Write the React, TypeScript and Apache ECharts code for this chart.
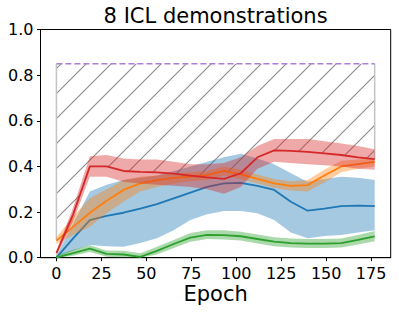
import React, { useEffect, useRef } from "react";
import * as echarts from "echarts";

const epochs = [0, 9.3, 18.6, 27.9, 37.3, 46.6, 55.9, 65.2, 74.5, 83.8, 93.2, 102.5, 111.8, 121.1, 130.4, 139.7, 149, 158.4, 167.7, 177];

const blueMean = [0.0, 0.085, 0.165, 0.183, 0.197, 0.215, 0.235, 0.26, 0.285, 0.31, 0.326, 0.328, 0.315, 0.297, 0.245, 0.206, 0.215, 0.226, 0.228, 0.226];
const blueUpper = [0.01, 0.15, 0.29, 0.32, 0.34, 0.35, 0.36, 0.38, 0.4, 0.42, 0.44, 0.455, 0.435, 0.41, 0.37, 0.333, 0.345, 0.355, 0.35, 0.34];
const blueLower = [0.0, 0.03, 0.056, 0.05, 0.048, 0.064, 0.085, 0.12, 0.165, 0.19, 0.205, 0.205, 0.195, 0.165, 0.11, 0.085, 0.095, 0.1, 0.11, 0.12];

const orangeMean = [0.075, 0.135, 0.197, 0.25, 0.297, 0.326, 0.34, 0.35, 0.355, 0.362, 0.38, 0.365, 0.345, 0.326, 0.315, 0.318, 0.36, 0.4, 0.41, 0.42];
const orangeUpper = [0.09, 0.18, 0.26, 0.3, 0.34, 0.355, 0.36, 0.37, 0.375, 0.38, 0.4, 0.385, 0.365, 0.345, 0.335, 0.34, 0.385, 0.425, 0.43, 0.435];
const orangeLower = [0.06, 0.1, 0.136, 0.195, 0.245, 0.29, 0.31, 0.325, 0.335, 0.34, 0.36, 0.345, 0.325, 0.305, 0.295, 0.29, 0.33, 0.375, 0.39, 0.4];

const greenMean = [0.0, 0.02, 0.04, 0.017, 0.014, 0.004, 0.03, 0.06, 0.088, 0.1, 0.099, 0.094, 0.082, 0.07, 0.064, 0.062, 0.062, 0.064, 0.078, 0.093];
const greenUpper = [0.012, 0.035, 0.055, 0.032, 0.03, 0.02, 0.048, 0.078, 0.108, 0.12, 0.12, 0.114, 0.102, 0.09, 0.084, 0.082, 0.082, 0.084, 0.1, 0.117];
const greenLower = [0.0, 0.008, 0.025, 0.004, 0.0, 0.0, 0.014, 0.042, 0.07, 0.082, 0.08, 0.075, 0.062, 0.05, 0.045, 0.043, 0.043, 0.045, 0.058, 0.072];

const redMean = [0.02, 0.19, 0.4, 0.4, 0.38, 0.376, 0.374, 0.368, 0.36, 0.352, 0.345, 0.37, 0.44, 0.47, 0.468, 0.464, 0.457, 0.45, 0.44, 0.432];
const redUpper = [0.03, 0.22, 0.445, 0.45, 0.435, 0.43, 0.43, 0.42, 0.41, 0.41, 0.415, 0.44, 0.49, 0.52, 0.52, 0.52, 0.51, 0.5, 0.49, 0.475];
const redLower = [0.01, 0.16, 0.355, 0.355, 0.333, 0.325, 0.32, 0.315, 0.31, 0.3, 0.28, 0.31, 0.39, 0.42, 0.415, 0.41, 0.405, 0.4, 0.39, 0.385];

const ceiling = 0.85;
const xTicks = [0, 25, 50, 75, 100, 125, 150, 175];
const title = "8 ICL demonstrations";
const xName = "Epoch";

const FONT = "DejaVu Sans";

function makeHatch(): string {
  const c = document.createElement("canvas");
  c.width = 25;
  c.height = 25;
  const ctx = c.getContext("2d");
  if (ctx) {
    ctx.strokeStyle = "#8a8a8a";
    ctx.lineWidth = 1.1;
    ctx.beginPath();
    ctx.moveTo(-3, 28);
    ctx.lineTo(28, -3);
    ctx.moveTo(-3, 3);
    ctx.lineTo(3, -3);
    ctx.moveTo(22, 28);
    ctx.lineTo(28, 22);
    ctx.stroke();
  }
  return c.toDataURL();
}

function pts(ys: number[]) {
  return epochs.map((x, i) => [x, ys[i]]);
}

// A filled region between lower and upper, drawn as one polygon through the axes' scales.
function region(name: string, lower: number[], upper: number[], style: any, z: number) {
  const data = epochs.map((x, i) => [x, lower[i], upper[i]]);
  return {
    name,
    type: "custom",
    data,
    silent: true,
    clip: true,
    z,
    renderItem: (params: any, api: any) => {
      if (params.dataIndex !== 0) return null;
      const top: number[][] = [];
      const bot: number[][] = [];
      for (let i = 0; i < data.length; i++) {
        top.push(api.coord([data[i][0], data[i][2]]));
        bot.push(api.coord([data[i][0], data[i][1]]));
      }
      const points = top.concat(bot.reverse());
      return {
        type: "polygon",
        shape: { points },
        style,
      };
    },
  };
}

function meanLine(name: string, ys: number[], color: string, z: number) {
  return {
    name,
    type: "line",
    data: pts(ys),
    showSymbol: false,
    symbol: "none",
    lineStyle: { color, width: 1.8 },
    silent: true,
    z,
  };
}

function plainLine(name: string, data: number[][], lineStyle: any, z: number) {
  return {
    name,
    type: "line",
    data,
    showSymbol: false,
    symbol: "none",
    lineStyle,
    silent: true,
    z,
  };
}

export default function App() {
  const ref = useRef<HTMLDivElement>(null);
  useEffect(() => {
    if (!ref.current) return;
    const chart = echarts.init(ref.current, null, { renderer: "svg" });
    const maxMean = epochs.map((_, i) =>
      Math.max(blueMean[i], orangeMean[i], greenMean[i], redMean[i])
    );
    const ceil = epochs.map(() => ceiling);
    const hatch = makeHatch();
    const last = epochs.length - 1;

    const left = 40.5;
    const right = 8.3;
    const top = 29.5;
    const bottom = 55.3;
    const plotCenter = left + (399 - left - right) / 2;

    chart.setOption({
      animation: false,
      textStyle: { fontFamily: FONT },
      grid: {
        left,
        right,
        top,
        bottom,
        show: true,
        borderColor: "#000",
        borderWidth: 1,
        containLabel: false,
      },
      xAxis: {
        type: "value",
        min: -8.85,
        max: 185.9,
        axisLine: { show: true, onZero: false, lineStyle: { color: "#000", width: 1 } },
        axisTick: {
          show: true,
          length: 3.5,
          lineStyle: { color: "#000" },
          customValues: xTicks,
        },
        axisLabel: {
          color: "#000",
          fontSize: 16,
          lineHeight: 15,
          fontFamily: FONT,
          margin: 8.5,
          customValues: xTicks,
        },
        splitLine: { show: false },
      },
      yAxis: {
        type: "value",
        min: 0,
        max: 1,
        interval: 0.2,
        axisLine: { show: true, onZero: false, lineStyle: { color: "#000", width: 1 } },
        axisTick: { show: true, length: 3.5, lineStyle: { color: "#000" } },
        axisLabel: {
          color: "#000",
          fontSize: 16,
          fontFamily: FONT,
          margin: 7,
          formatter: (v: number) => v.toFixed(1),
        },
        splitLine: { show: false },
      },
      graphic: [
        {
          type: "text",
          x: plotCenter,
          y: 16,
          style: {
            text: title,
            textAlign: "center",
            textVerticalAlign: "middle",
            font: `21px "${FONT}"`,
            fill: "#000",
          },
        },
        {
          type: "text",
          x: plotCenter,
          y: 294,
          style: {
            text: xName,
            textAlign: "center",
            textVerticalAlign: "middle",
            lineHeight: 20,
            font: `21px "${FONT}"`,
            fill: "#000",
          },
        },
      ],
      series: [
        region(
          "hatch",
          maxMean,
          ceil,
          {
            fill: {
              type: "pattern",
              image: hatch,
              imageWidth: 25,
              imageHeight: 25,
              repeat: "repeat",
            },
            stroke: "none",
          },
          1
        ),
        plainLine(
          "edge_left",
          [
            [epochs[0], maxMean[0]],
            [epochs[0], ceiling],
          ],
          { color: "#c4c4c4", width: 1.5 },
          2
        ),
        plainLine(
          "edge_right",
          [
            [epochs[last], maxMean[last]],
            [epochs[last], ceiling],
          ],
          { color: "#c4c4c4", width: 1.5 },
          2
        ),
        plainLine(
          "ceiling",
          [
            [epochs[0], ceiling],
            [epochs[last], ceiling],
          ],
          { color: "#a97fd6", width: 1.6, type: [6, 3] },
          3
        ),
        region("blue_band", blueLower, blueUpper, { fill: "#1f77b4", opacity: 0.4 }, 4),
        meanLine("blue", blueMean, "#1f77b4", 5),
        region("orange_band", orangeLower, orangeUpper, { fill: "#ff7f0e", opacity: 0.4 }, 6),
        meanLine("orange", orangeMean, "#ff7f0e", 7),
        region("green_band", greenLower, greenUpper, { fill: "#2ca02c", opacity: 0.4 }, 8),
        meanLine("green", greenMean, "#2ca02c", 9),
        region("red_band", redLower, redUpper, { fill: "#d62728", opacity: 0.4 }, 10),
        meanLine("red", redMean, "#d62728", 11),
      ],
    });
    return () => chart.dispose();
  }, []);
  return (
    <div
      ref={ref}
      style={{ position: "absolute", left: 0, top: 0, width: 399, height: 313 }}
    />
  );
}
